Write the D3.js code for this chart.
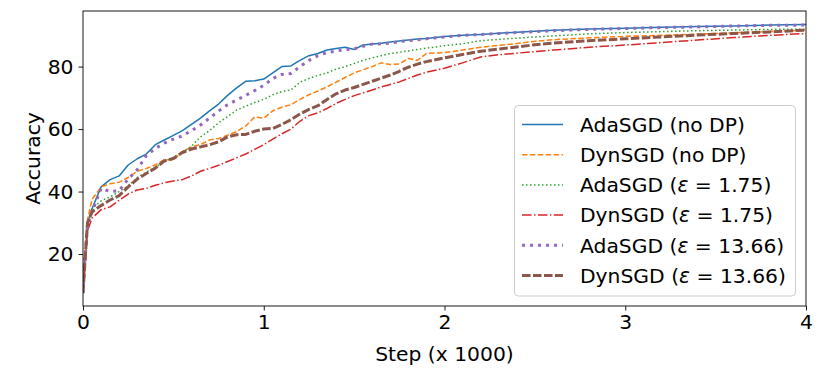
<!DOCTYPE html>
<html>
<head>
<meta charset="utf-8">
<script src="https://cdn.jsdelivr.net/npm/d3@7"></script>
<style>
  body { margin: 0; background: #fff; }
  text { font-family: "DejaVu Sans", sans-serif; fill: #000; }
</style>
</head>
<body>
<svg id="chart" width="830" height="374"></svg>
<script>
const steps = [0, 0.01, 0.025, 0.05, 0.1, 0.15, 0.2, 0.25, 0.3, 0.35, 0.4, 0.45, 0.5, 0.55, 0.6, 0.65,
  0.7, 0.75, 0.8, 0.85, 0.9, 0.95, 1.0, 1.05, 1.1, 1.15, 1.2, 1.25, 1.3, 1.35, 1.4, 1.45, 1.5, 1.55,
  1.6, 1.65, 1.7, 1.75, 1.8, 1.85, 1.9, 2.0, 2.1, 2.2, 2.3, 2.4, 2.5, 2.6, 2.8, 3.0, 3.2, 3.4, 3.6, 3.8, 4.0];

const adaNoDP = [7.5, 18, 30, 34.5, 41.5, 43.8, 45, 48.5, 50.5, 52, 55, 56.5, 58, 59.5, 61.5, 63.5,
  65.8, 68, 70.8, 73.2, 75.3, 75.5, 76, 78, 80, 80.2, 82, 83.5, 84.2, 85.3, 85.8, 86.2, 85.5, 86.9,
  87.2, 87.5, 87.9, 88.2, 88.5, 88.8, 89, 89.6, 90, 90.3, 90.7, 91, 91.3, 91.6, 92, 92.3, 92.6, 92.8, 93, 93.3, 93.5];

const dynNoDP = [7.5, 18, 31, 37.5, 41.5, 42.5, 43, 44.5, 46.5, 47.4, 48.5, 50.2, 50.1, 52.8, 54.3, 55,
  56.5, 57, 58, 59.2, 61, 63.9, 63.5, 65.8, 67, 67.8, 69.5, 71, 72.2, 73.5, 75, 76.5, 78, 79,
  80, 81.2, 80.7, 80.8, 82.6, 82, 84.2, 84.5, 85.3, 86.2, 86.8, 87.4, 88.1, 88.6, 89.2, 89.7, 90, 90.4, 90.8, 91.2, 91.7];

const adaEps175 = [7.5, 16, 28, 34.5, 37, 38.3, 40, 41.8, 44.5, 46.2, 47.8, 49.5, 51, 52.5, 54.5, 57.5,
  59.5, 62, 64, 66.1, 67.3, 68.5, 69.5, 71, 72, 72.5, 75, 76.2, 77.2, 78, 79.2, 80, 81, 82,
  82.8, 83.5, 84.2, 84.6, 85, 85.5, 85.9, 86.7, 87.3, 88.3, 88.7, 89.1, 89.5, 89.8, 90.5, 90.9, 91.2, 91.5, 91.7, 91.9, 92];

const dynEps175 = [7.5, 15, 27.5, 31.5, 34.2, 35.1, 37.2, 39.2, 40.5, 41, 42, 42.8, 43.4, 43.8, 45, 46.5,
  47.4, 48.4, 49.6, 50.8, 52, 53.5, 55, 56.8, 58.5, 60, 62.5, 64.3, 65.2, 66.6, 68.2, 69.5, 70.7, 71.6,
  72.5, 73.5, 74.3, 75.1, 76.2, 77.3, 78.2, 79.5, 81.2, 83.1, 83.8, 84.3, 84.8, 85.3, 86.2, 86.9, 87.7, 88.5, 89.3, 90, 90.6];

const adaEps1366 = [7.5, 17, 29.5, 33.5, 41, 40, 40.3, 44, 47, 51.5, 53.8, 55.5, 56.8, 57.8, 59.5, 61.3,
  63.5, 65.8, 67.8, 69.3, 70.8, 72.3, 74, 76.2, 77.5, 77.8, 80, 82, 83.5, 84.5, 85, 85.4, 85.7, 86.5,
  87.2, 87.3, 87.5, 88, 88.3, 88.6, 88.9, 89.5, 90, 90.3, 90.6, 90.9, 91.2, 91.5, 91.9, 92.2, 92.5, 92.7, 93, 93.2, 93.3];

const dynEps1366 = [7.5, 17, 30, 33.5, 35.5, 37.3, 38.7, 41.5, 44, 45.8, 47.5, 49.8, 50.6, 52.5, 53.6, 54.3,
  55, 55.9, 57.5, 58.2, 58.3, 59.3, 60, 60.2, 61.5, 63, 64.8, 66.3, 67.5, 69.5, 71.3, 72.5, 73.3, 74.3,
  75.3, 76.3, 77.3, 78.5, 79.8, 80.8, 81.6, 82.8, 83.9, 84.9, 85.6, 86.3, 87, 87.5, 88.3, 88.9, 89.5, 90.1, 90.6, 91.1, 91.7];

const xTicks = [0, 1, 2, 3, 4];
const yTicks = [20, 40, 60, 80];

// series styling, in matplotlib draw order
const series = [
  { name: "AdaSGD", tag: "(no DP)", values: adaNoDP, color: "#1f77b4", width: 1.5, dash: null },
  { name: "DynSGD", tag: "(no DP)", values: dynNoDP, color: "#ff7f0e", width: 1.5, dash: "5.5,2.4" },
  { name: "AdaSGD", eps: "1.75", values: adaEps175, color: "#2ca02c", width: 1.5, dash: "1.5,2.5" },
  { name: "DynSGD", eps: "1.75", values: dynEps175, color: "#d62728", width: 1.5, dash: "9.6,2.4,1.5,2.4" },
  { name: "AdaSGD", eps: "13.66", values: adaEps1366, color: "#9467bd", width: 3, dash: "3,5" },
  { name: "DynSGD", eps: "13.66", values: dynEps1366, color: "#8c564b", width: 3, dash: "8.5,2.5" }
];

const fontSize = "20.3px";

const svg = d3.select("#chart");
const plot = { left: 83, right: 806, top: 11, bottom: 306 };

const x = d3.scaleLinear().domain([0, 4]).range([plot.left, plot.right]);
const y = d3.scaleLinear().domain([3.36, 97.8]).range([plot.bottom, plot.top]);

svg.append("rect").attr("width", 830).attr("height", 374).attr("fill", "#fff");

// clip so lines stay inside axes
svg.append("clipPath").attr("id", "clip")
  .append("rect")
  .attr("x", plot.left).attr("y", plot.top)
  .attr("width", plot.right - plot.left).attr("height", plot.bottom - plot.top);

const line = d3.line()
  .x((d, i) => x(steps[i]))
  .y(d => y(d));

svg.append("g")
  .attr("clip-path", "url(#clip)")
  .selectAll("path.line")
  .data(series)
  .enter()
  .append("path")
  .attr("class", "line")
  .attr("fill", "none")
  .attr("stroke", d => d.color)
  .attr("stroke-width", d => d.width)
  .attr("stroke-dasharray", d => d.dash)
  .attr("stroke-linejoin", "round")
  .attr("d", d => line(d.values));

// Axes
const xAxis = svg.append("g")
  .attr("transform", `translate(0,${plot.bottom})`)
  .call(d3.axisBottom(x).tickValues(xTicks).tickFormat(d3.format("d")).tickSize(4.5).tickPadding(4));

const yAxis = svg.append("g")
  .attr("transform", `translate(${plot.left},0)`)
  .call(d3.axisLeft(y).tickValues(yTicks).tickSize(4.5).tickPadding(5));

[xAxis, yAxis].forEach(g => {
  g.select(".domain").remove();
  g.selectAll(".tick line").attr("stroke", "#000").attr("stroke-width", 0.9);
  g.selectAll(".tick text")
    .style("font-family", "DejaVu Sans")
    .style("font-size", fontSize)
    .attr("fill", "#000");
});

// spines
svg.append("rect")
  .attr("x", plot.left).attr("y", plot.top)
  .attr("width", plot.right - plot.left).attr("height", plot.bottom - plot.top)
  .attr("fill", "none")
  .attr("stroke", "#000")
  .attr("stroke-width", 0.9);

// axis labels
svg.append("text")
  .attr("x", (plot.left + plot.right) / 2)
  .attr("y", 361)
  .attr("text-anchor", "middle")
  .style("font-size", fontSize)
  .text("Step (x 1000)");

svg.append("text")
  .attr("transform", `translate(40,${(plot.top + plot.bottom) / 2}) rotate(-90)`)
  .attr("text-anchor", "middle")
  .style("font-size", fontSize)
  .text("Accuracy");

// legend
const legend = svg.append("g").attr("class", "legend");

legend.append("rect")
  .attr("x", 514.5).attr("y", 105.5)
  .attr("width", 281).attr("height", 190.5)
  .attr("rx", 4)
  .attr("fill", "#fff").attr("fill-opacity", 0.8)
  .attr("stroke", "#cccccc").attr("stroke-width", 1);

const rows = legend.selectAll("g.item")
  .data(series)
  .enter()
  .append("g")
  .attr("class", "item")
  .attr("transform", (d, i) => `translate(0,${124.5 + i * 30.2})`);

rows.append("line")
  .attr("x1", 522).attr("x2", 563)
  .attr("stroke", d => d.color)
  .attr("stroke-width", d => d.width)
  .attr("stroke-dasharray", d => d.dash);

const labels = rows.append("text")
  .attr("x", 580)
  .attr("dy", "0.36em")
  .style("font-size", fontSize);

labels.each(function(d) {
  const t = d3.select(this);
  if (d.tag) {
    t.text(`${d.name} ${d.tag}`);
  } else {
    t.append("tspan").text(`${d.name} (`);
    t.append("tspan").style("font-style", "italic").text("\u03b5");
    t.append("tspan").text(` = ${d.eps})`);
  }
});
</script>
</body>
</html>
